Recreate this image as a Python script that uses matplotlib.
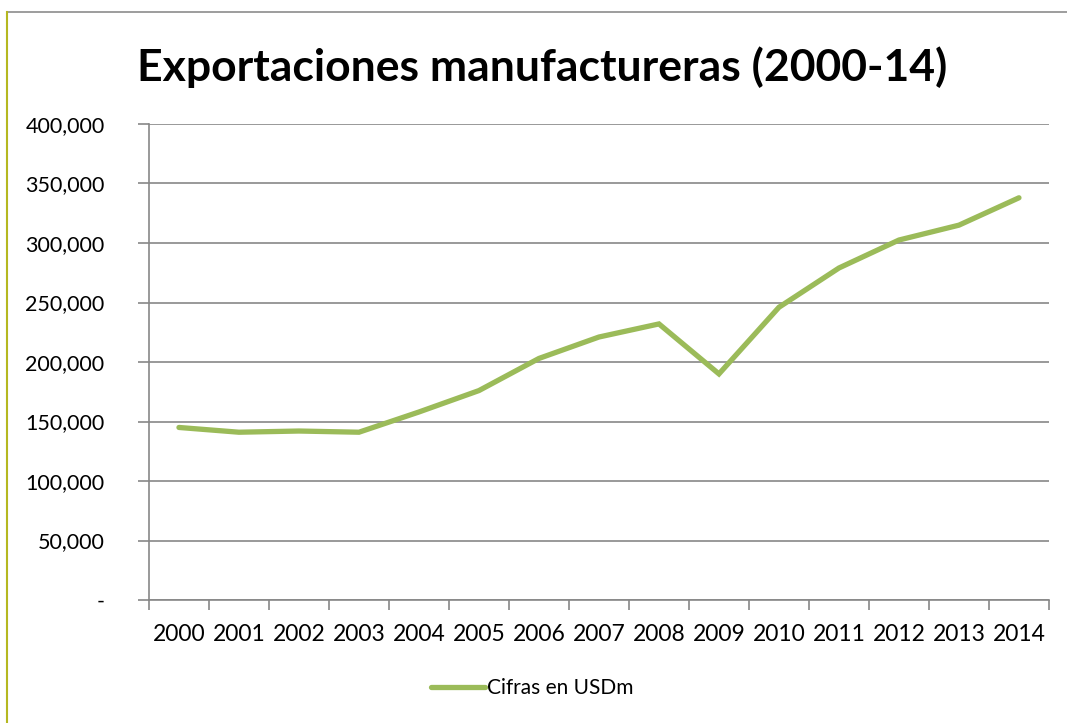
import matplotlib
matplotlib.use("Agg")
from matplotlib import pyplot as plt
from matplotlib.lines import Line2D
from matplotlib.ticker import FuncFormatter, FixedLocator
import numpy as np

plt.rcParams['font.family'] = ['Lato', 'DejaVu Sans']

# exportaciones manufactureras, millones de USD
years = ["2000", "2001", "2002", "2003", "2004", "2005", "2006", "2007",
         "2008", "2009", "2010", "2011", "2012", "2013", "2014"]
values = [145000, 141000, 142000, 141000, 158000, 176000, 203000, 221000,
          232000, 190000, 246000, 279000, 302500, 315000, 338000]
serie = "Cifras en USDm"
titulo = "Exportaciones manufactureras (2000-14)"

fig = plt.figure(figsize=(10.67, 7.23), dpi=100)
ax = fig.add_axes([0.1396, 0.1701, 0.8435, 0.6584])

x = np.arange(len(years))
ax.plot(x, values, color="#9BBB59", lw=3.8, solid_capstyle="round",
        solid_joinstyle="miter", label=serie, zorder=3)

ax.set_xlim(-0.5, len(years) - 0.5)
ax.set_ylim(0, 400000)
ax.set_yticks(np.arange(0, 400001, 50000))
ax.yaxis.set_major_formatter(FuncFormatter(
    lambda v, p: "-" if v == 0 else f"{int(v):,}"))
ax.grid(axis="y", color="#878787", lw=1.2)
ax.set_axisbelow(True)

# marcas del eje x entre categorias, etiquetas centradas
ax.xaxis.set_major_locator(FixedLocator(np.arange(-0.5, len(years), 1)))
ax.xaxis.set_minor_locator(FixedLocator(x))
ax.set_xticklabels([])
ax.set_xticklabels(years, minor=True)
ax.tick_params(axis="x", which="major", length=7, width=1.2, color="#878787")
ax.tick_params(axis="x", which="minor", length=0, pad=17, labelsize=16.5)
ax.tick_params(axis="y", length=8, width=1.2, color="#878787", pad=24,
               labelsize=15.5)

for s in ["top", "right"]:
    ax.spines[s].set_visible(False)
for s in ["left", "bottom"]:
    ax.spines[s].set_color("#878787")
    ax.spines[s].set_linewidth(1.2)

fig.text(0.508, 0.907, titulo, ha="center", va="center", fontsize=32,
         fontweight="bold")

fig.legend(loc="center", bbox_to_anchor=(0.499, 0.048), frameon=False,
           fontsize=15, handlelength=2.6, handletextpad=0.1)

# marco del grafico
fig.add_artist(Line2D([7 / 1067, 1.0], [1 - 12 / 723, 1 - 12 / 723],
                      transform=fig.transFigure, color="#8c8c8c", lw=1.2))
fig.add_artist(Line2D([7 / 1067, 7 / 1067], [0.0, 1 - 12 / 723],
                      transform=fig.transFigure, color="#b5b820", lw=1.5))

fig.savefig("out.png", dpi=100)
